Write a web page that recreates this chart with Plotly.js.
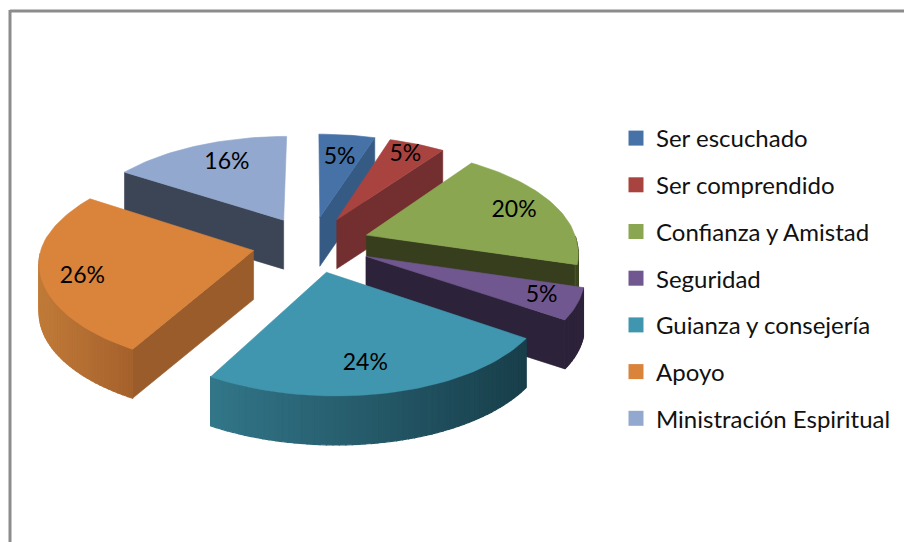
<!DOCTYPE html>
<html><head><meta charset="utf-8">
<script src="https://cdn.plot.ly/plotly-3.0.1.min.js"></script>
<style>html,body{margin:0;padding:0;background:#fff}#chart{width:904px;height:542px}</style>
</head><body><div id="chart"></div>
<script>
const categories = ["Ser escuchado","Ser comprendido","Confianza y Amistad","Seguridad","Guianza y consejería","Apoyo","Ministración Espiritual"];
const values = [5,5,20,5,24,26,16];
const topColors = ["#4672a8","#a8433f","#8aa650","#70578f","#4096ae","#d9833b","#92a8ce"];
const cutColors = ["#355b85","#732e2f","#373e1e","#2c2239","#1d4a56","#9a5c2b","#3c4555"];
const wallLeft  = ["#355b85","#732e2f","#4a5a28","#2c2239","#327689","#c07a38","#3c4555"];
const wallRight = ["#355b85","#732e2f","#373e1e","#2c2239","#183e4a","#a5612c","#3c4555"];

const CX=311, CY=244, A=211, B=100, P=0.127, E=0.28, D=49, SHEAR=8;
const total = values.reduce((a,b)=>a+b,0);
const rad = d => d*Math.PI/180;
function proj(X,Y,z){const s=1/(1-P*Y);return [CX+A*X*s+SHEAR*Math.max(Y,0), CY+B*Y*s+z*D];}
function hex(c){return [1,3,5].map(i=>parseInt(c.substr(i,2),16));}
function mix(a,b,t){const x=hex(a),y=hex(b);return "rgb("+x.map((v,i)=>Math.round(v+(y[i]-v)*t)).join(",")+")";}
function poly(pts,color,w){
  return {type:"scatter",mode:"lines",x:pts.map(p=>p[0]).concat(pts[0][0]),y:pts.map(p=>p[1]).concat(pts[0][1]),
    fill:"toself",fillcolor:color,line:{color:color,width:w||0.6},hoverinfo:"skip",showlegend:false};
}
const traces=[]; const labelX=[], labelY=[];
const labelR=[0.70,0.84,0.78,0.84,0.78,0.82,0.72];
const labelShift=[0,0,0,0,3,-5,3];
let c=0; const slices=values.map((v,i)=>{const a0=c/total*360;c+=v;const a1=c/total*360;
  const mid=(a0+a1)/2;return {i,a0,a1,mid,ox:E*Math.sin(rad(mid)),oy:-E*Math.cos(rad(mid))};});
const rim=(s,a,z)=>proj(s.ox+Math.sin(rad(a)),s.oy-Math.cos(rad(a)),z);
const order=[6,0,1,2,3,5,4];
order.forEach(k=>{
  const s=slices[k], i=s.i, apex=proj(s.ox,s.oy,0);
  const arc=[];const n=Math.max(4,Math.ceil((s.a1-s.a0)/1.5));
  for(let j=0;j<=n;j++)arc.push(s.a0+(s.a1-s.a0)*j/n);
  const top=[apex].concat(arc.map(a=>rim(s,a,0)));
  const gx=top.reduce((t,p)=>t+p[0],0)/top.length, gy=top.reduce((t,p)=>t+p[1],0)/top.length;
  [s.a0,s.a1].forEach(a=>{
    const q=rim(s,a,0), dx=q[0]-apex[0];
    if(Math.abs(dx)<8)return;
    const ly=apex[1]+(q[1]-apex[1])*(gx-apex[0])/dx;
    if(gy<ly) traces.push(poly([apex,q,rim(s,a,1),proj(s.ox,s.oy,1)],cutColors[i]));
  });
  const vis=arc.filter(a=>a>=90&&a<=270);
  if(vis.length>1){
    const xs=vis.map(a=>rim(s,a,0)[0]), mn=Math.min(...xs), mx=Math.max(...xs);
    for(let j=0;j<vis.length-1;j++){
      const p=rim(s,vis[j],0),q=rim(s,vis[j+1],0);
      const t=((p[0]+q[0])/2-mn)/Math.max(1,mx-mn);
      traces.push(poly([p,q,rim(s,vis[j+1],1),rim(s,vis[j],1)],mix(wallLeft[i],wallRight[i],t),1.2));
    }
  }
  traces.push(poly(top,topColors[i]));
});
slices.forEach(s=>{const r=labelR[s.i], a=s.mid+labelShift[s.i];const p=proj(s.ox+r*Math.sin(rad(a)),s.oy-r*Math.cos(rad(a)),0);labelX.push(p[0]);labelY.push(p[1]);});
traces.push({type:"scatter",mode:"text",x:labelX,y:labelY,text:values.map(v=>v+"%"),textposition:"middle center",
  textfont:{family:"Lato, Carlito, sans-serif",size:23,color:"#000"},hoverinfo:"skip",showlegend:false});
categories.forEach((name,i)=>traces.push({type:"scatter",mode:"markers",name:name,legendgroup:"g"+i,x:[null],y:[null],
  marker:{symbol:"square",size:15,color:topColors[i]},showlegend:true}));

Plotly.newPlot("chart",traces,{
  width:904,height:542,margin:{l:0,r:0,t:0,b:0},paper_bgcolor:"#fff",plot_bgcolor:"#fff",
  xaxis:{range:[0,904],visible:false,fixedrange:true},
  yaxis:{range:[542,0],visible:false,fixedrange:true},
  legend:{x:616/904,y:1-116/542,xanchor:"left",yanchor:"top",traceorder:"grouped",tracegroupgap:12.5,
    font:{family:"Lato, Carlito, sans-serif",size:24,color:"#111"},bgcolor:"rgba(0,0,0,0)",borderwidth:0},
  shapes:[
    {type:"line",xref:"x",yref:"y",x0:10,x1:904,y0:11,y1:11,line:{color:"#8c8c8c",width:3}},
    {type:"line",xref:"x",yref:"y",x0:10,x1:10,y0:10,y1:542,line:{color:"#8c8c8c",width:3}}
  ]
},{displayModeBar:false,staticPlot:true});
</script></body></html>
